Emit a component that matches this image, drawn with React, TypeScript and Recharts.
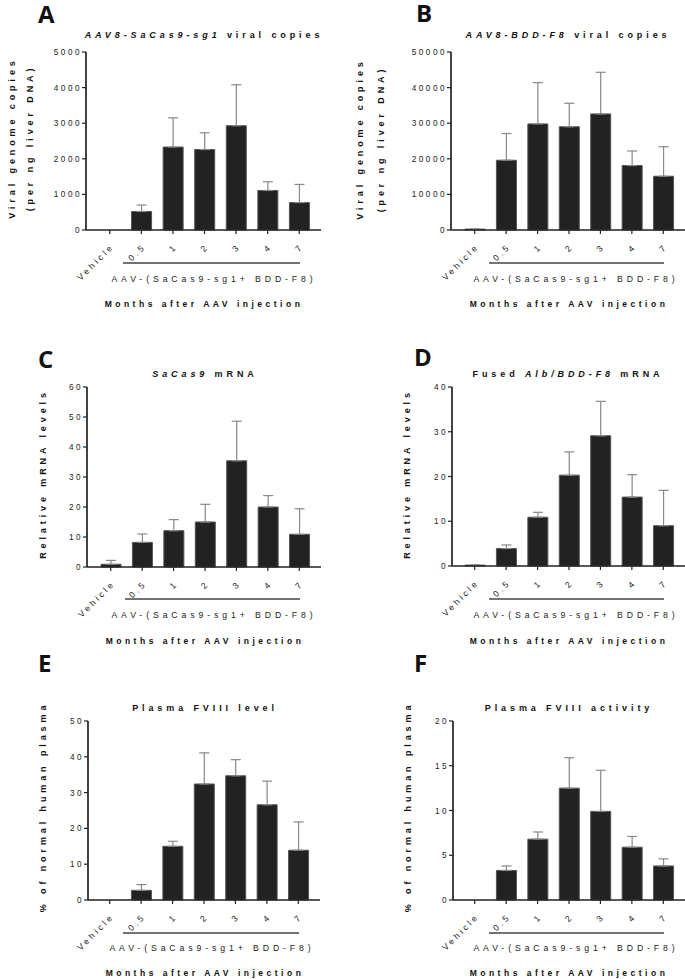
import React from "react";
import { BarChart, Bar, XAxis, YAxis, ErrorBar } from "recharts";

// categories (months after injection)
const groups = ["Vehicle", "0.5", "1", "2", "3", "4", "7"];

// A: AAV8-SaCas9-sg1 viral copies
const aMean = [0, 520, 2330, 2260, 2930, 1110, 770];
const aErr = [0, 180, 820, 470, 1150, 245, 510];
// B: AAV8-BDD-F8 viral copies
const bMean = [250, 19600, 29800, 29000, 32600, 18100, 15100];
const bErr = [0, 7500, 11600, 6600, 11700, 4100, 8300];
// C: SaCas9 mRNA
const cMean = [0.9, 8.2, 12.1, 15, 35.4, 20, 10.9];
const cErr = [1.3, 2.8, 3.7, 5.9, 13.2, 3.8, 8.5];
// D: fused Alb/BDD-F8 mRNA
const dMean = [0.2, 3.9, 10.9, 20.3, 29.1, 15.4, 9];
const dErr = [0, 0.8, 1.1, 5.2, 7.7, 5, 7.9];
// E: plasma FVIII level
const eMean = [0, 2.7, 15, 32.4, 34.7, 26.6, 13.9];
const eErr = [1.8, 1.6, 1.4, 8.7, 4.5, 6.6, 7.9];
// F: plasma FVIII activity
const fMean = [0, 3.3, 6.8, 12.5, 9.9, 5.9, 3.8];
const fErr = [1, 0.5, 0.8, 3.4, 4.6, 1.2, 0.8];

const aTicks = [0, 1000, 2000, 3000, 4000, 5000];
const bTicks = [0, 10000, 20000, 30000, 40000, 50000];
const cTicks = [0, 10, 20, 30, 40, 50, 60];
const dTicks = [0, 10, 20, 30, 40];
const eTicks = [0, 10, 20, 30, 40, 50];
const fTicks = [0, 5, 10, 15, 20];

const ARIAL = "'Liberation Sans', Arial, sans-serif";
const INK = "#222";

function rows(mean: number[], err: number[]) {
  return groups.map((g, i) => ({ name: g, mean: mean[i], err: [0, err[i]] }));
}

function RotTick({ x, y, payload }: any) {
  const tx = x + 5;
  const ty = y + 11;
  return (
    <text x={tx} y={ty} transform={`rotate(-45 ${tx} ${ty})`} textAnchor="end"
      fontFamily={ARIAL} fontSize={8.6} fill="#222" style={{ letterSpacing: "2.9px" }}>
      {payload.value}
    </text>
  );
}

function YTick({ x, y, payload }: any) {
  return (
    <text x={x + 2} y={y + 3} textAnchor="end" fontFamily={ARIAL} fontSize={8.2} fill="#222"
      style={{ letterSpacing: "2.5px" }}>
      {payload.value}
    </text>
  );
}

type PanelProps = {
  ox: number; oy: number; w: number; h: number;
  axisX: number; top: number; zero: number; right: number; padL: number;
  data: { name: string; mean: number; err: number[] }[];
  ticks: number[];
};

function Panel({ ox, oy, w, h, axisX, top, zero, right, padL, data, ticks }: PanelProps) {
  const yw = 60;
  const xh = 30;
  const margin = {
    top: top - oy,
    left: axisX - ox - yw,
    right: ox + w - right,
    bottom: oy + h - zero - xh,
  };
  return (
    <div style={{ position: "absolute", left: ox, top: oy }}>
      <BarChart width={w} height={h} data={data} margin={margin}>
        <XAxis dataKey="name" tick={<RotTick />} tickSize={4} interval={0}
          padding={{ left: padL, right: 6 }}
          axisLine={{ stroke: INK, strokeWidth: 1.7 }} tickLine={{ stroke: INK, strokeWidth: 1.2 }} height={xh} />
        <YAxis width={yw} domain={[0, ticks[ticks.length - 1]]} ticks={ticks} tick={<YTick />} tickSize={4}
          axisLine={{ stroke: INK, strokeWidth: 1.7 }} tickLine={{ stroke: INK, strokeWidth: 1.2 }} />
        <Bar dataKey="mean" barSize={20} fill="#222" stroke="#555" strokeWidth={1} isAnimationActive={false}>
          <ErrorBar dataKey="err" width={5} stroke="#888" strokeWidth={1.2} isAnimationActive={false} />
        </Bar>
      </BarChart>
    </div>
  );
}

type Note = {
  letter: string; lx: number; ly: number;
  title: React.ReactNode; tx: number; ty: number;
  ylab: string[]; yx: number[]; yy: number;
  ux1: number; ux2: number; uy: number;
  gx: number; gy: number; mx: number; my: number;
};

const notes: Note[] = [
  { letter: "A", lx: 38, ly: 23, title: <><tspan fontStyle="italic">AAV8-SaCas9-sg1</tspan> viral copies</>, tx: 204, ty: 38,
    ylab: ["Viral genome copies", "(per ng liver DNA)"], yx: [15, 33], yy: 138, ux1: 123, ux2: 300, uy: 263, gx: 214, gy: 282, mx: 204, my: 307 },
  { letter: "B", lx: 416, ly: 22, title: <><tspan fontStyle="italic">AAV8-BDD-F8</tspan> viral copies</>, tx: 568, ty: 38,
    ylab: ["Viral genome copies", "(per ng liver DNA)"], yx: [363, 384], yy: 139, ux1: 489, ux2: 664, uy: 263, gx: 576, gy: 282, mx: 569, my: 307 },
  { letter: "C", lx: 38, ly: 368, title: <><tspan fontStyle="italic">SaCas9</tspan> mRNA</>, tx: 205, ty: 377,
    ylab: ["Relative mRNA levels"], yx: [46], yy: 474, ux1: 125, ux2: 300, uy: 599, gx: 214, gy: 618, mx: 205, my: 644 },
  { letter: "D", lx: 414, ly: 366, title: <>Fused <tspan fontStyle="italic">Alb/BDD-F8</tspan> mRNA</>, tx: 568, ty: 377,
    ylab: ["Relative mRNA levels"], yx: [410], yy: 474, ux1: 489, ux2: 664, uy: 599, gx: 576, gy: 618, mx: 569, my: 644 },
  { letter: "E", lx: 38, ly: 672, title: <>Plasma FVIII level</>, tx: 205, ty: 711,
    ylab: ["% of normal human plasma"], yx: [46], yy: 807, ux1: 123, ux2: 299, uy: 933, gx: 212, gy: 951, mx: 205, my: 976 },
  { letter: "F", lx: 414, ly: 672, title: <>Plasma FVIII activity</>, tx: 569, ty: 711,
    ylab: ["% of normal human plasma"], yx: [411], yy: 807, ux1: 489, ux2: 664, uy: 933, gx: 576, gy: 951, mx: 569, my: 976 },
];

export default function App() {
  return (
    <div style={{ position: "absolute", left: 0, top: 0, width: 685, height: 979, background: "#fff", overflow: "hidden" }}>
      <Panel ox={0} oy={0} w={342} h={320} axisX={86} top={52} zero={230} right={321} padL={8} data={rows(aMean, aErr)} ticks={aTicks} />
      <Panel ox={342} oy={0} w={343} h={320} axisX={451} top={52} zero={230} right={685} padL={8} data={rows(bMean, bErr)} ticks={bTicks} />
      <Panel ox={0} oy={320} w={342} h={330} axisX={87} top={387} zero={567} right={321} padL={8} data={rows(cMean, cErr)} ticks={cTicks} />
      <Panel ox={342} oy={320} w={343} h={330} axisX={452} top={387} zero={566} right={685} padL={7} data={rows(dMean, dErr)} ticks={dTicks} />
      <Panel ox={0} oy={650} w={342} h={329} axisX={88} top={721} zero={900} right={320} padL={6} data={rows(eMean, eErr)} ticks={eTicks} />
      <Panel ox={342} oy={650} w={343} h={329} axisX={453} top={721} zero={900} right={685} padL={6} data={rows(fMean, fErr)} ticks={fTicks} />
      <svg width={685} height={979} style={{ position: "absolute", left: 0, top: 0, pointerEvents: "none" }}>
        {notes.map((n) => (
          <g key={n.letter}>
            <text x={n.lx} y={n.ly} fontFamily="'Open Sans', sans-serif" fontWeight={700} fontSize={24} fill="#111">{n.letter}</text>
            <text x={n.tx} y={n.ty} textAnchor="middle" fontFamily={ARIAL} fontWeight={700} fontSize={9} fill="#111"
              style={{ letterSpacing: "3.9px" }}>{n.title}</text>
            {n.ylab.map((s, i) => (
              <text key={s} x={n.yx[i]} y={n.yy} transform={`rotate(-90 ${n.yx[i]} ${n.yy})`} textAnchor="middle"
                fontFamily={ARIAL} fontWeight={700} fontSize={9} fill="#111" style={{ letterSpacing: "3.9px" }}>{s}</text>
            ))}
            <line x1={n.ux1} x2={n.ux2} y1={n.uy} y2={n.uy} stroke="#444" strokeWidth={1.3} />
            <text x={n.gx} y={n.gy} textAnchor="middle" fontFamily={ARIAL} fontSize={8.7} fill="#222"
              style={{ letterSpacing: "3.9px" }}>AAV-(SaCas9-sg1+ BDD-F8)</text>
            <text x={n.mx} y={n.my} textAnchor="middle" fontFamily={ARIAL} fontWeight={700} fontSize={8.5} fill="#111"
              style={{ letterSpacing: "3.5px" }}>Months after AAV injection</text>
          </g>
        ))}
      </svg>
    </div>
  );
}
